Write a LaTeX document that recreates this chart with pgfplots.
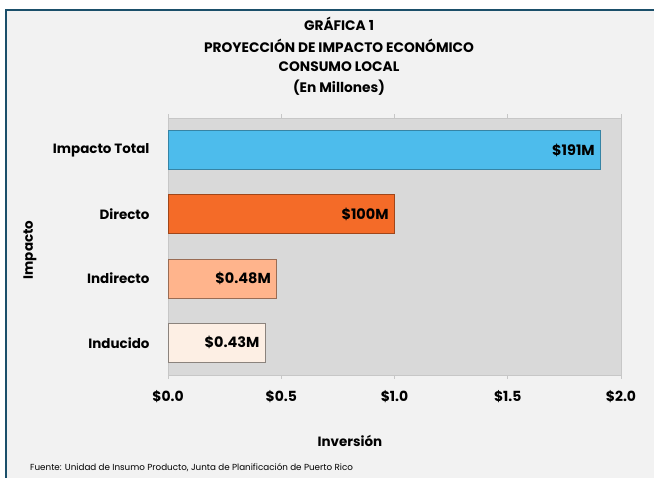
\documentclass[border=0pt]{standalone}
\usepackage{pgfplots}
\pgfplotsset{compat=1.18}
\usepackage{fontspec}
\setmainfont{Poppins}
\definecolor{bgc}{HTML}{F2F2F2}
\definecolor{plotbg}{HTML}{D9D9D9}
\definecolor{frame}{HTML}{1B4F6A}
\definecolor{cblue}{HTML}{4DBCEC}
\definecolor{corange}{HTML}{F46B28}
\definecolor{csalmon}{HTML}{FFB48C}
\definecolor{clight}{HTML}{FDEFE4}
\begin{document}
\begin{tikzpicture}
\path[use as bounding box] (0,0) rectangle (654bp,478bp);
\fill[white] (0,0) rectangle (654bp,478bp);
\fill[bgc] (6bp,0) rectangle (654bp,468bp);
\draw[frame, line width=2.2bp] (6bp,0) -- (6bp,468bp) -- (654bp,468bp);
\begin{axis}[
  at={(168bp,103bp)}, anchor=south west,
  scale only axis, width=453bp, height=257bp,
  xbar, bar width=39bp, bar shift=0pt,
  xmin=0, xmax=2, ymin=-0.5, ymax=3.5,
  xtick={0,0.5,1,1.5,2},
  xticklabels={\$0.0,\$0.5,\$1.0,\$1.5,\$2.0},
  ytick={0,1,2,3},
  yticklabels={Inducido,Indirecto,Directo,Impacto Total},
  axis background/.style={fill=plotbg},
  axis line style={draw=black!22, line width=0.8bp},
  tick align=outside, major tick length=4bp,
  xtick style={draw=black!22, line width=0.8bp},
  ytick style={draw=none},
  xticklabel style={font=\bfseries\fontsize{14}{16}\selectfont, yshift=-8bp},
  yticklabel style={font=\bfseries\fontsize{13.5}{15}\selectfont, xshift=-11bp},
  /pgf/number format/assume math mode=true,
  nodes near coords,
  point meta=explicit symbolic,
  every node near coord/.append style={anchor=east, xshift=-2bp, font=\bfseries\fontsize{14.5}{16}\selectfont, text=black},
]
\addplot[fill=cblue, draw=cblue!70!black, line width=1.2bp] coordinates {(1.91,3) [\$191M]};
\addplot[fill=corange, draw=corange!65!black, line width=1.2bp] coordinates {(1.00,2) [\$100M]};
\addplot[fill=csalmon, draw=csalmon!60!black, line width=1.2bp] coordinates {(0.48,1) [\$0.48M]};
\addplot[fill=clight, draw=clight!55!black, line width=1.2bp] coordinates {(0.43,0) [\$0.43M]};
\end{axis}
\begin{scope}[font=\bfseries\fontsize{13.8}{15}\selectfont]
\node at (339bp,454bp) {GRÁFICA 1};
\node at (339bp,432bp) {PROYECCIÓN DE IMPACTO ECONÓMICO};
\node at (339bp,411bp) {CONSUMO LOCAL};
\node at (339bp,390bp) {(En Millones)};
\end{scope}
\begin{scope}[font=\bfseries\fontsize{13.5}{15}\selectfont]
\node at (350bp,37bp) {Inversión};
\node[rotate=90] at (30bp,228bp) {Impacto};
\end{scope}
\node[anchor=west, font=\fontsize{8.8}{10}\selectfont, inner sep=0] at (30bp,10bp) {Fuente: Unidad de Insumo Producto, Junta de Planificación de Puerto Rico};
\end{tikzpicture}
\end{document}
